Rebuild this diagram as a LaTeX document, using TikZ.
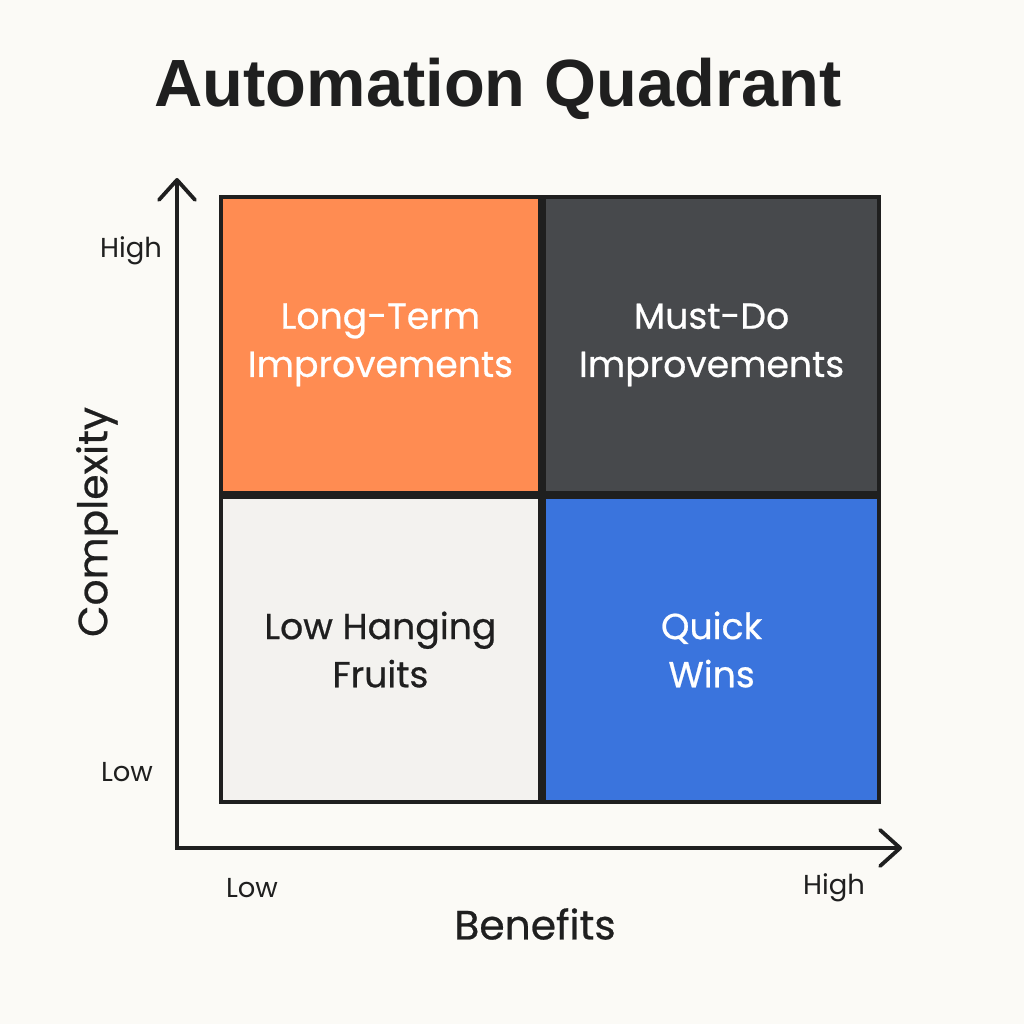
\documentclass[tikz,border=0pt]{standalone}
\usepackage{fontspec}
\setmainfont{Poppins}
\newfontfamily\titlefont{Liberation Sans}
\newfontfamily\mediumfont{Poppins}[FakeBold=0.6]
\usetikzlibrary{arrows.meta,positioning}
\definecolor{bgpaper}{HTML}{FBFAF6}
\definecolor{inkdark}{HTML}{1F1F1F}
\definecolor{qorange}{HTML}{FF8C52}
\definecolor{qgray}{HTML}{47494C}
\definecolor{qlight}{HTML}{F3F2EF}
\definecolor{qblue}{HTML}{3A74DD}
\tikzset{
	cell/.style={draw=inkdark, line width=4pt*0.2845, inner sep=0pt, align=center,
		font=\mediumfont\fontsize{10.3}{13.7}\selectfont},
	ticklbl/.style={text=inkdark, font=\fontsize{7.8}{9}\selectfont},
	axislbl/.style={text=inkdark, font=\mediumfont\fontsize{11.6}{14}\selectfont},
	axisline/.style={draw=inkdark, line width=3.8pt*0.2845, line join=miter,
		{Straight Barb[length=2mm,width=3.6mm,round]}-{Straight Barb[length=2mm,width=3.6mm,round]}}
}
\begin{document}
\begin{tikzpicture}[x=0.01cm, y=-0.01cm]
		\fill[bgpaper] (0,0) rectangle (1024,1024);
		\useasboundingbox (0,0) rectangle (1024,1024);
		\node[text=inkdark, font=\titlefont\bfseries\fontsize{19}{22}\selectfont] (title) at (498,89) {Automation Quadrant};
		% axes
		\coordinate (ytop) at (177,178);
		\coordinate (origin) at (177,848);
		\coordinate (xend) at (902,848);
		\draw[axisline] (ytop)--(origin)--(xend);
		% quadrants
		\node[cell, fill=qorange, text=white, minimum width=3.19cm, minimum height=2.96cm, anchor=south east] (lt) at (542,495) {Long-Term\\Improvements};
		\node[cell, fill=qgray, text=white, minimum width=3.35cm, minimum height=2.96cm, anchor=south west] (md) at (542,495) {Must-Do\\Improvements};
		\node[cell, fill=qlight, text=inkdark, minimum width=3.19cm, minimum height=3.05cm, anchor=north east] (lh) at (542,495) {Low Hanging\\Fruits};
		\node[cell, fill=qblue, text=white, minimum width=3.35cm, minimum height=3.05cm, anchor=north west] (qw) at (542,495) {Quick\\Wins};
		% labels
		\node[ticklbl] (yhigh) at (131,251) {High};
		\node[ticklbl] (ylow) at (127,772) {Low};
		\node[ticklbl] (xlow) at (252,888) {Low};
		\node[ticklbl] (xhigh) at (834,888) {High};
		\node[axislbl] (xlbl) at (535,924) {Benefits};
		\node[axislbl, rotate=90] (ylbl) at (97,522) {Complexity};
	\end{tikzpicture}
\end{document}
